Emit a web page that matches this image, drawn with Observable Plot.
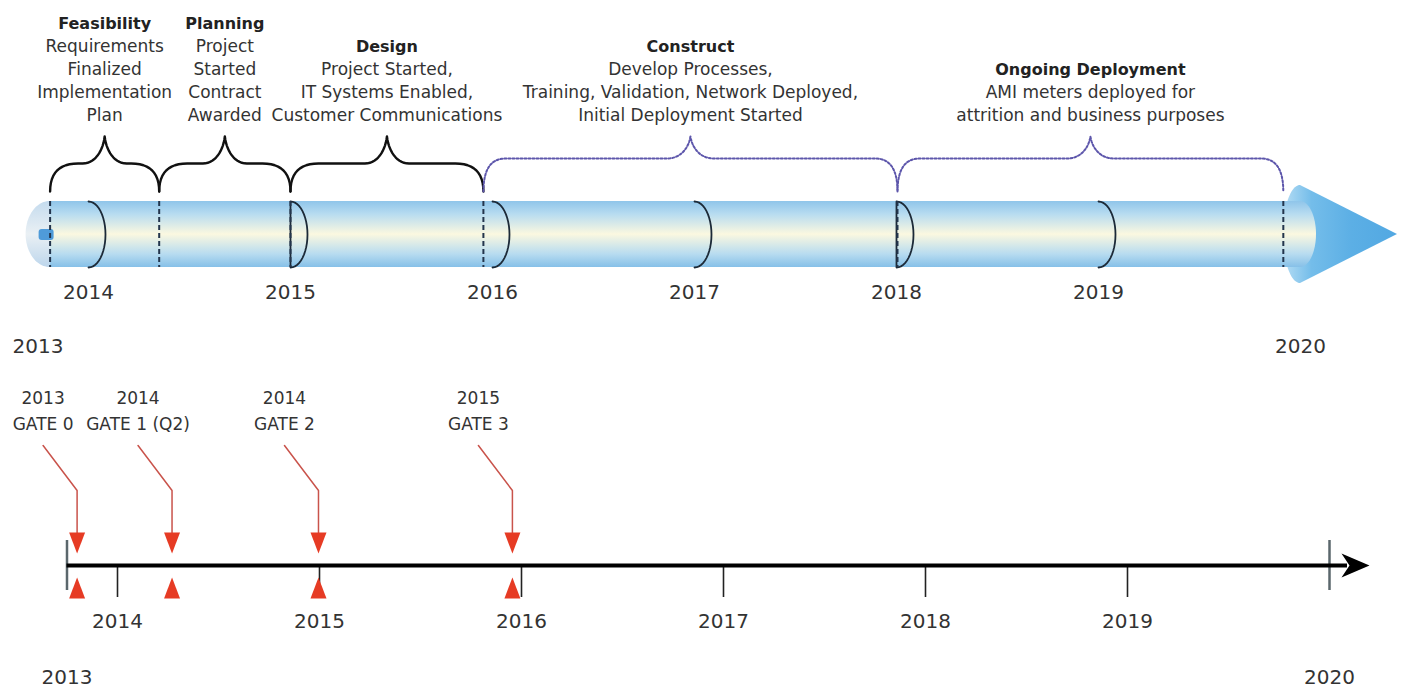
<!DOCTYPE html>
<html>
<head>
<meta charset="utf-8">
<script src="https://cdn.jsdelivr.net/npm/d3@7"></script>
<script src="https://cdn.jsdelivr.net/npm/@observablehq/plot@0.6"></script>
<style>
  html, body { margin: 0; padding: 0; background: #fff; }
  #chart { width: 1406px; height: 688px; overflow: hidden; }
  #chart svg { display: block; }
</style>
</head>
<body>
<div id="chart"></div>
<script>
// ---------------- DATA ----------------
const phaseNames = ["Feasibility", "Planning", "Design", "Construct", "Ongoing Deployment"];
const phaseDescriptions = [
  "Requirements\nFinalized\nImplementation\nPlan",
  "Project\nStarted\nContract\nAwarded",
  "Project Started,\nIT Systems Enabled,\nCustomer Communications",
  "Develop Processes,\nTraining, Validation, Network Deployed,\nInitial Deployment Started",
  "AMI meters deployed for\nattrition and business purposes"
];
const phaseStarts = [2013.81, 2014.35, 2015.0, 2015.955, 2018.005];
const phaseEnds   = [2014.35, 2015.0, 2015.955, 2018.005, 2019.915];
const phaseStatus = ["done", "done", "done", "planned", "planned"];

const yearTicks = [2014, 2015, 2016, 2017, 2018, 2019];
const timelineStart = 2013.75;
const timelineEnd = 2020;
const rangeLabels = ["2013", "2020"];

const gateNames = ["GATE 0", "GATE 1 (Q2)", "GATE 2", "GATE 3"];
const gateYearLabels = ["2013", "2014", "2014", "2015"];
const gateDates = [2013.80, 2014.27, 2014.995, 2015.955];

// ---------------- LAYOUT ----------------
const W = 1406, TOP_H = 360, BOT_H = 328;
const FONT = "'DejaVu Sans', 'Liberation Sans', sans-serif";
const TEXT = "#333";
const topDomain = [2013.5644, 2020.5248];
const botDomain = [2013.4208, 2020.3812];
const pT = v => v * (topDomain[1] - topDomain[0]) / W;   // px -> years (top)
const pB = v => v * (botDomain[1] - botDomain[0]) / W;   // px -> years (bottom)

const phases = phaseNames.map((name, i) => ({
  name, desc: phaseDescriptions[i], start: phaseStarts[i], end: phaseEnds[i],
  status: phaseStatus[i], mid: (phaseStarts[i] + phaseEnds[i]) / 2,
  n: phaseDescriptions[i].split("\n").length
}));
const boundaries = [...phaseStarts, phaseEnds[phaseEnds.length - 1]];

// tube geometry (y in pixels of the top svg)
const TT = 201, TB = 267, TM = 234, TR = 33;
const N = 24;
const steps = n => d3.range(n + 1).map(i => i / n);

const capPts = steps(N).map(t => {
  const th = t * Math.PI / 2;
  return {x: boundaries[0] - pT(24) * Math.cos(th), y1: TM - TR * Math.sin(th), y2: TM + TR * Math.sin(th)};
});
const tubePts = [{x: boundaries[0], y1: TT, y2: TB}]
  .concat(steps(N).map(t => {
    const th = Math.PI / 2 * (1 - t);
    return {x: timelineEnd + pT(16) * Math.cos(th), y1: TM - TR * Math.sin(th), y2: TM + TR * Math.sin(th)};
  }));
const tipYear = timelineEnd + pT(97);
const conePts = steps(N).map(t => {
  const th = t * Math.PI / 2;
  return {x: timelineEnd - pT(17) * Math.cos(th), y1: TM - 49 * Math.sin(th), y2: TM + 49 * Math.sin(th)};
}).concat([{x: tipYear, y1: TM, y2: TM}]);

// year arcs on the tube
const arcPts = yearTicks.flatMap(yr => {
  const closed = boundaries.some(b => Math.abs(b - yr) < 0.01);
  const pts = steps(N).map(t => {
    const th = t * Math.PI;
    return {id: yr, x: yr + pT(17) * Math.sin(th), y: TM - TR * Math.cos(th)};
  });
  if (closed) pts.push({id: yr, x: yr, y: TT});
  return pts;
});

// curly braces
function quad(p0, c, p1, n = 12) {
  return d3.range(1, n + 1).map(i => {
    const t = i / n, u = 1 - t;
    return {x: u * u * p0.x + 2 * u * t * c.x + t * t * p1.x, y: u * u * p0.y + 2 * u * t * c.y + t * t * p1.y};
  });
}
function cubic(p0, c1, c2, p1, n = 14) {
  return d3.range(1, n + 1).map(i => {
    const t = i / n, u = 1 - t;
    return {
      x: u*u*u*p0.x + 3*u*u*t*c1.x + 3*u*t*t*c2.x + t*t*t*p1.x,
      y: u*u*u*p0.y + 3*u*u*t*c1.y + 3*u*t*t*c2.y + t*t*t*p1.y
    };
  });
}
function brace(id, x1, x2, yEnd, yH, yPeak, rEnd, rPeak) {
  const xm = (x1 + x2) / 2;
  const left = [{x: x1, y: yEnd}]
    .concat(quad({x: x1, y: yEnd}, {x: x1, y: yH}, {x: x1 + rEnd, y: yH}))
    .concat([{x: xm - rPeak, y: yH}])
    .concat(cubic({x: xm - rPeak, y: yH}, {x: xm - rPeak * 0.45, y: yH},
                  {x: xm - rPeak * 0.08, y: yH - (yH - yPeak) * 0.45}, {x: xm, y: yPeak}));
  const right = left.slice(0, -1).reverse().map(p => ({x: 2 * xm - p.x, y: p.y}));
  return left.concat(right).map(p => ({...p, id}));
}
const bracesDone = phases.filter(p => p.status === "done")
  .flatMap(p => brace(p.name, p.start, p.end, 191, 163, 136, pT(28), pT(22)));
const bracesPlanned = phases.filter(p => p.status === "planned")
  .flatMap(p => brace(p.name, p.start, p.end, 191, 158, 136, pT(22), pT(23)));

// ---------------- TOP PLOT ----------------
const topSvg = Plot.plot({
  width: W, height: TOP_H, margin: 0,
  style: {fontFamily: FONT, background: "#fff"},
  x: {domain: topDomain, axis: null},
  y: {domain: [0, TOP_H], range: [0, TOP_H], axis: null},
  marks: [
    Plot.areaY(conePts, {x: "x", y1: "y1", y2: "y2", fill: "url(#coneGrad)", curve: "linear"}),
    Plot.areaY(capPts, {x: "x", y1: "y1", y2: "y2", fill: "url(#capGrad)"}),
    Plot.areaY(tubePts, {x: "x", y1: "y1", y2: "y2", fill: "url(#tubeGrad)"}),
    Plot.rect([timelineStart], {x1: d => boundaries[0] - pT(11), x2: d => boundaries[0] + pT(4), y1: 229, y2: 240, fill: "#4f9bd9", rx: 3}),
    Plot.line(arcPts, {x: "x", y: "y", z: "id", stroke: "#1c2a38", strokeWidth: 1.8, curve: "linear"}),
    Plot.ruleX(boundaries, {x: d => d, y1: TT, y2: TB, stroke: "#23354d", strokeWidth: 2, strokeDasharray: "5,3"}),
    Plot.line(bracesDone, {x: "x", y: "y", z: "id", stroke: "#111", strokeWidth: 2.4, curve: "linear"}),
    Plot.line(bracesPlanned, {x: "x", y: "y", z: "id", stroke: "#5d56ab", strokeWidth: 2, strokeDasharray: "2,2", curve: "linear"}),
    Plot.text(phases, {x: "mid", y: 120, text: "desc", lineAnchor: "bottom", lineHeight: 23 / 17, fontSize: 17, fill: TEXT}),
    Plot.text(phases, {x: "mid", y: d => 120 - d.n * 23, text: "name", lineAnchor: "bottom", fontSize: 16, fontWeight: "bold", fill: "#222"}),
    Plot.text(yearTicks, {x: d => d, y: 298, text: d => String(d), lineAnchor: "bottom", fontSize: 20, fill: TEXT}),
    Plot.text(rangeLabels, {x: (d, i) => i === 0 ? timelineStart : timelineEnd, y: 352, text: d => d, lineAnchor: "bottom", fontSize: 20, fill: TEXT})
  ]
});

// ---------------- BOTTOM PLOT ----------------
const AX = 565;
const gates = gateNames.map((name, i) => ({name, year: gateYearLabels[i], date: gateDates[i]}));
const leaderPts = gates.flatMap(g => [
  {id: g.name, x: g.date - pB(34), y: 445},
  {id: g.name, x: g.date, y: 490},
  {id: g.name, x: g.date, y: 533}
]);
const triDown = gates.flatMap(g => [
  {id: g.name, x: g.date - pB(8), y: 532},
  {id: g.name, x: g.date + pB(8), y: 532},
  {id: g.name, x: g.date, y: 553}
]);
const triUp = gates.flatMap(g => [
  {id: g.name, x: g.date - pB(8), y: 598},
  {id: g.name, x: g.date + pB(8), y: 598},
  {id: g.name, x: g.date, y: 577}
]);
const arrowPts = [
  {x: timelineEnd + pB(12), y: AX - 12},
  {x: timelineEnd + pB(40), y: AX},
  {x: timelineEnd + pB(12), y: AX + 12},
  {x: timelineEnd + pB(20), y: AX}
];

const bottomSvg = Plot.plot({
  width: W, height: BOT_H, margin: 0,
  style: {fontFamily: FONT, background: "#fff"},
  x: {domain: botDomain, axis: null},
  y: {domain: [TOP_H, TOP_H + BOT_H], range: [0, BOT_H], axis: null},
  marks: [
    Plot.ruleX([timelineStart, timelineEnd], {x: d => d, y1: 540, y2: 590, stroke: "#5b676c", strokeWidth: 2.5}),
    Plot.ruleX(yearTicks, {x: d => d, y1: AX, y2: 597, stroke: "#222", strokeWidth: 1.6}),
    Plot.ruleY([AX], {x1: timelineStart, x2: timelineEnd + pB(18), stroke: "#000", strokeWidth: 4}),
    Plot.line(arrowPts, {x: "x", y: "y", fill: "#000", stroke: "none"}),
    Plot.line(leaderPts, {x: "x", y: "y", z: "id", stroke: "#c9534b", strokeWidth: 1.5}),
    Plot.line(triDown, {x: "x", y: "y", z: "id", fill: "#e63b24", stroke: "none"}),
    Plot.line(triUp, {x: "x", y: "y", z: "id", fill: "#e63b24", stroke: "none"}),
    Plot.text(gates, {x: d => d.date - pB(34), y: 403, text: "year", lineAnchor: "bottom", fontSize: 17, fill: TEXT}),
    Plot.text(gates, {x: d => d.date - pB(34), y: 429, text: "name", lineAnchor: "bottom", fontSize: 17, fill: TEXT}),
    Plot.text(yearTicks, {x: d => d, y: 627, text: d => String(d), lineAnchor: "bottom", fontSize: 20, fill: TEXT}),
    Plot.text(rangeLabels, {x: (d, i) => i === 0 ? timelineStart : timelineEnd, y: 683, text: d => d, lineAnchor: "bottom", fontSize: 20, fill: TEXT})
  ]
});

// gradient definitions
function addDefs(svg) {
  const defs = d3.create("svg:defs");
  const grad = (id, horiz, stops) => {
    const g = defs.append("linearGradient").attr("id", id)
      .attr("x1", 0).attr("y1", 0).attr("x2", horiz ? 1 : 0).attr("y2", horiz ? 0 : 1);
    stops.forEach(([o, c]) => g.append("stop").attr("offset", o).attr("stop-color", c));
  };
  grad("tubeGrad", false, [[0, "#8fc5ea"], [0.2, "#b8dcf0"], [0.5, "#fbf8e0"], [0.8, "#b8dcf0"], [1, "#86c0e8"]]);
  grad("capGrad", false, [[0, "#c4dbee"], [0.5, "#eaf0f4"], [1, "#bdd6ec"]]);
  grad("coneGrad", true, [[0, "#b6ddf4"], [0.25, "#74bdea"], [0.6, "#5cafe5"], [1, "#52a8e2"]]);
  svg.insertBefore(defs.node(), svg.firstChild);
}
addDefs(topSvg);

const chart = document.getElementById("chart");
chart.appendChild(topSvg);
chart.appendChild(bottomSvg);
</script>
</body>
</html>
